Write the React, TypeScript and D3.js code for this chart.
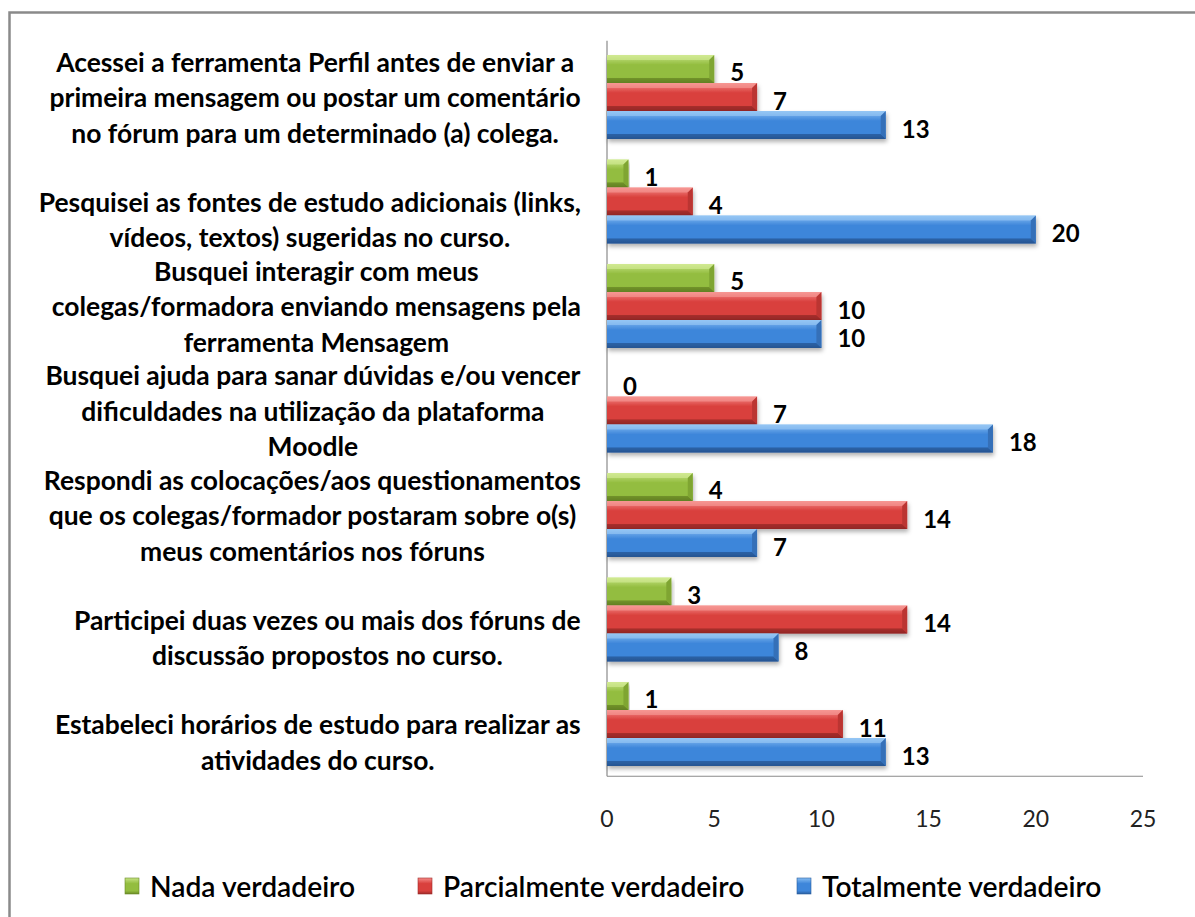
import React, { useMemo } from "react";
import * as d3 from "d3";

const categories: string[][] = [
  ["Acessei a ferramenta Perfil antes de enviar a", "primeira mensagem ou postar um comentário", "no fórum para um determinado (a) colega."],
  ["", "Pesquisei as fontes de estudo adicionais (links,", "vídeos, textos) sugeridas no curso."],
  ["Busquei interagir com meus", "colegas/formadora enviando mensagens pela", "ferramenta Mensagem"],
  ["Busquei ajuda para sanar dúvidas e/ou vencer", "dificuldades na utilização da plataforma", "Moodle"],
  ["Respondi as colocações/aos questionamentos", "que os colegas/formador postaram sobre o(s)", "meus comentários nos fóruns"],
  ["", "Participei duas vezes ou mais dos fóruns de", "discussão propostos no curso."],
  ["", "Estabeleci horários de estudo para realizar as", "atividades do curso."],
];

const seriesNames = ["Nada verdadeiro", "Parcialmente verdadeiro", "Totalmente verdadeiro"];
const nadaValues = [5, 1, 5, 0, 4, 3, 1];
const parcialValues = [7, 4, 10, 7, 14, 14, 11];
const totalValues = [13, 20, 10, 18, 7, 8, 13];
const xTicks = [0, 5, 10, 15, 20, 25];

const palettes = [
  { light: "#c6e384", mid: "#93bd3f", dark: "#6a8a26", top: "#d8ef9c", bottom: "#5d7a20", side: "#7fa533" },
  { light: "#f58b88", mid: "#d9403d", dark: "#9e2b29", top: "#f7a09d", bottom: "#8a2523", side: "#bb3633" },
  { light: "#86bdf3", mid: "#3e86da", dark: "#2a5e9f", top: "#a2cdf6", bottom: "#234f88", side: "#3570b8" },
];

const FONT = "Lato, 'Open Sans', sans-serif";

function measure(text: string, font: string): number {
  const c = document.createElement("canvas");
  const ctx = c.getContext("2d")!;
  ctx.font = font;
  return ctx.measureText(text).width;
}

export default function App() {
  const W = 1195, H = 917;
  const left = 607, right = 1143, top = 44.75, bottom = 776.25;
  const x = d3.scaleLinear().domain([0, 25]).range([left, right]);
  const y = d3.scaleBand<number>().domain(d3.range(categories.length)).range([top, bottom]).paddingInner(0.196).paddingOuter(0.098);
  const inner = d3.scaleBand<number>().domain([0, 1, 2]).range([0, y.bandwidth()]);
  const series = [nadaValues, parcialValues, totalValues];

  const labelFontSize = useMemo(() => {
    const w = measure("primeira mensagem ou postar um comentário", `bold 100px ${FONT}`);
    return (532 / w) * 100;
  }, []);
  const legendFontSize = useMemo(() => {
    const w = measure("Parcialmente verdadeiro", `600 100px ${FONT}`);
    return (302 / w) * 100;
  }, []);
  const labelFont = `bold ${labelFontSize}px ${FONT}`;
  const lineH = 35.5;
  const labelRight = 581;

  const b = 5;

  return (
    <svg width={W} height={H} style={{ position: "absolute", left: 0, top: 0, background: "#fff" }} fontFamily={FONT}>
      <defs>
        {palettes.map((p, i) => (
          <linearGradient key={i} id={`g${i}`} x1="0" y1="0" x2="0" y2="1">
            <stop offset="0" stopColor={p.light} />
            <stop offset="0.35" stopColor={p.mid} />
            <stop offset="0.8" stopColor={p.mid} />
            <stop offset="1" stopColor={p.dark} />
          </linearGradient>
        ))}
        <filter id="shadow" x="-5%" y="-20%" width="110%" height="160%">
          <feDropShadow dx="1" dy="3" stdDeviation="2" floodColor="#000" floodOpacity="0.3" />
        </filter>
      </defs>
      <rect x={9.5} y={12.5} width={1300} height={1000} fill="#fff" stroke="#8a8a8a" strokeWidth={2.5} />

      {/* axes */}
      <line x1={left} x2={left} y1={top - 4} y2={bottom} stroke="#8a8a8a" strokeWidth={1.2} />
      <line x1={left} x2={right} y1={bottom} y2={bottom} stroke="#8a8a8a" strokeWidth={1.2} />
      {xTicks.map((t) => (
        <text key={t} x={x(t)} y={818} textAnchor="middle" dominantBaseline="central" fontSize={23} fill="#222">
          {t}
        </text>
      ))}

      {/* category labels */}
      {categories.map((lines, ci) => {
        const cy = (y(ci) as number) + y.bandwidth() / 2;
        const maxW = d3.max(lines, (l) => measure(l, labelFont)) || 0;
        const cx = labelRight - maxW / 2;
        return (
          <g key={ci}>
            {lines.map((l, li) =>
              l ? (
                <text key={li} x={cx} y={cy + (li - 1) * lineH} textAnchor="middle" dominantBaseline="central" fontSize={labelFontSize} fontWeight="bold" fill="#000">
                  {l}
                </text>
              ) : null
            )}
          </g>
        );
      })}

      {/* bars */}
      {categories.map((_, ci) => (
        <g key={ci}>
          {series.map((vals, si) => {
            const v = vals[ci];
            const y0 = (y(ci) as number) + (inner(si) as number);
            const h = inner.bandwidth();
            const x0 = x(0);
            const x1 = x(v);
            const p = palettes[si];
            const y1 = y0 + h;
            return (
              <g key={si}>
                {v > 0 && (
                  <g filter="url(#shadow)">
                    <rect x={x0} y={y0} width={x1 - x0} height={h} fill={`url(#g${si})`} />
                    <polygon points={`${x0},${y0} ${x1},${y0} ${x1 - b},${y0 + b} ${x0},${y0 + b}`} fill={p.top} opacity={0.55} />
                    <polygon points={`${x0},${y1} ${x1},${y1} ${x1 - b},${y1 - b} ${x0},${y1 - b}`} fill={p.bottom} opacity={0.6} />
                    <polygon points={`${x1},${y0} ${x1},${y1} ${x1 - b},${y1 - b} ${x1 - b},${y0 + b}`} fill={p.side} />
                  </g>
                )}
                <text x={x1 + 16} y={y0 + h / 2 + 3} dominantBaseline="central" fontSize={24} fontWeight="bold" fill="#000">
                  {v}
                </text>
              </g>
            );
          })}
        </g>
      ))}

      {/* legend */}
      {seriesNames.map((name, si) => {
        const lx = [125, 418, 797][si];
        return (
          <g key={name}>
            <rect x={lx} y={878} width={14} height={16} fill={`url(#g${si})`} stroke={palettes[si].dark} strokeWidth={0.6} />
            <text x={lx + 25} y={886} dominantBaseline="central" fontSize={legendFontSize} fontWeight={600} fill="#000">
              {name}
            </text>
          </g>
        );
      })}
    </svg>
  );
}
